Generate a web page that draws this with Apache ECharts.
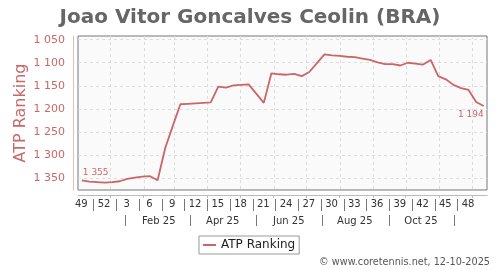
<!DOCTYPE html>
<html><head><meta charset="utf-8">
<script src="https://cdn.jsdelivr.net/npm/echarts@6/dist/echarts.min.js"></script>
<style>html,body{margin:0;padding:0;background:#fff}#c{width:500px;height:270px}</style>
</head><body><div id="c"></div>
<script>
// ---- data ----
const dates = ['2024-12-06','2024-12-13','2024-12-20','2024-12-27','2025-01-03','2025-01-10','2025-01-17','2025-01-24','2025-01-31',
  '2025-02-07','2025-02-14','2025-02-21','2025-02-28','2025-03-07','2025-03-14','2025-03-21','2025-03-28',
  '2025-04-04','2025-04-11','2025-04-18','2025-04-25','2025-05-02','2025-05-09','2025-05-16','2025-05-23','2025-05-30',
  '2025-06-06','2025-06-13','2025-06-20','2025-06-27','2025-07-04','2025-07-11','2025-07-18','2025-07-25',
  '2025-08-01','2025-08-08','2025-08-15','2025-08-22','2025-08-29','2025-09-05','2025-09-12','2025-09-19','2025-09-26',
  '2025-10-03','2025-10-10','2025-10-17','2025-10-24','2025-10-31','2025-11-07','2025-11-14','2025-11-21','2025-11-28',
  '2025-12-05','2025-12-12'];
const ranking = [1355,1358,1359,1360,1359,1357,1352,1349,1347,1346,1355,1285,1237,1190,1189,1188,1187,1186,
  1152,1154,1149,1148,1147,1167,1187,1123,1125,1126,1124,1129,1120,1101,1082,1084,1085,1087,1088,1091,1094,
  1099,1103,1103,1106,1100,1102,1104,1094,1129,1136,1148,1155,1159,1185,1194];
const weekTicks = ['49','52','3','6','9','12','15','18','21','24','27','30','33','36','39','42','45','48'];
const weekTickFirstMonday = '2024-12-02';
const monthTicks = ['Feb 25','Apr 25','Jun 25','Aug 25','Oct 25'];
const monthTickDates = ['2025-02-15','2025-04-15','2025-06-15','2025-08-15','2025-10-15'];
const monthSepDates = ['2025-01-15','2025-03-16','2025-05-16','2025-07-16','2025-09-16','2025-11-15'];
const monthStarts = ['2025-01-01','2025-02-01','2025-03-01','2025-04-01','2025-05-01','2025-06-01','2025-07-01',
  '2025-08-01','2025-09-01','2025-10-01','2025-11-01','2025-12-01'];
const yTicks = [1050,1100,1150,1200,1250,1300,1350];
const titleText = 'Joao Vitor Goncalves Ceolin (BRA)';
const seriesName = 'ATP Ranking';
const footer = '\u00a9 www.coretennis.net, 12-10-2025';

// ---- helpers ----
const DAY = 86400000;
const base = Date.UTC(2025,0,1);
function dayOf(s){ const p = s.split('-').map(Number); return (Date.UTC(p[0],p[1]-1,p[2]) - base)/DAY; }
function fmt(v){ return String(v).replace(/\B(?=(\d{3})+(?!\d))/g,' '); }
const xMin = -29.5, xMax = 348, yMin = 1042, yMax = 1376;
const weekLabelDays = weekTicks.map((t,i)=> dayOf(weekTickFirstMonday) + 21*i + 3.5);
const weekSepDays = weekTicks.slice(1).map((t,i)=> weekLabelDays[i] + 11.5);
const monthLabelDays = monthTickDates.map(dayOf);
const monthSepDays = monthSepDates.map(dayOf);
const monthStartDays = monthStarts.map(dayOf);

const red = '#cc6666';
const lblRed = '#c96868';
const seriesData = dates.map((d,i)=>{
  const it = {value:[dayOf(d), ranking[i]]};
  if (i === 0) it.label = {show:true, position:'top', align:'left', distance:3, offset:[1,0]};
  if (i === dates.length-1) it.label = {show:true, position:'bottom', align:'right', distance:4, offset:[0,0]};
  return it;
});

function blankX(extra){
  return Object.assign({type:'value', gridIndex:0, min:xMin, max:xMax, position:'bottom',
    axisLine:{show:false, onZero:false}, axisTick:{show:false}, splitLine:{show:false}, axisLabel:{show:false}}, extra);
}
function nearest(arr, labels, v){ let b=0,bd=1e9; arr.forEach((d,i)=>{ if(Math.abs(d-v)<bd){bd=Math.abs(d-v);b=i;} }); return labels[b]; }

const chart = echarts.init(document.getElementById('c'), null, {renderer:'canvas'});
chart.setOption({
  animation:false,
  textStyle:{fontFamily:'DejaVu Sans'},
  title:{text:titleText, left:'center', top:3,
    textStyle:{fontFamily:'DejaVu Sans', fontSize:20, fontWeight:'bold', color:'#666'}},
  legend:{data:[seriesName], left:199, top:236, orient:'horizontal', borderColor:'#999', borderWidth:1,
    borderRadius:0, padding:[3,4,3,4], itemWidth:13, itemHeight:2, itemGap:6, icon:'rect',
    textStyle:{fontSize:12, color:'#222', fontFamily:'DejaVu Sans'}},
  graphic:[{type:'text', right:10, bottom:3, style:{text:footer, fontSize:9.7, fill:'#555', fontFamily:'DejaVu Sans'}}],
  grid:{left:78, right:13, top:36, bottom:80, show:true, backgroundColor:'#fafafa', borderColor:'#777', borderWidth:1},
  xAxis:[
    blankX({axisLine:{show:true, onZero:false, lineStyle:{color:'#bbb'}}, offset:5,
      axisTick:{show:true, length:3, customValues:monthStartDays, lineStyle:{color:'#bbb'}}}),
    blankX({offset:5, axisLabel:{show:true, customValues:weekLabelDays, margin:4, fontSize:10, color:'#333',
      formatter:(v)=>nearest(weekLabelDays, weekTicks, v)}}),
    blankX({offset:9, axisTick:{show:true, length:12, customValues:weekSepDays, lineStyle:{color:'#777'}}}),
    blankX({offset:5, axisLabel:{show:true, customValues:monthLabelDays, margin:21, fontSize:10, color:'#333',
      formatter:(v)=>nearest(monthLabelDays, monthTicks, v)}}),
    blankX({offset:25, axisTick:{show:true, length:11, customValues:monthSepDays, lineStyle:{color:'#777'}}})
  ],
  yAxis:{type:'value', inverse:true, min:yMin, max:yMax, offset:5,
    name:seriesName, nameLocation:'middle', nameGap:44, nameMoveOverlap:false,
    nameTextStyle:{fontSize:16, color:lblRed, fontFamily:'DejaVu Sans'},
    axisLine:{show:true, onZero:false, lineStyle:{color:'#e8bcbc'}},
    axisTick:{show:false, customValues:yTicks},
    axisLabel:{customValues:yTicks, formatter:fmt, fontSize:11, color:lblRed, margin:8},
    splitLine:{show:true, lineStyle:{color:'#ddd', type:[3,3]}}},
  series:[
    {type:'custom', xAxisIndex:0, yAxisIndex:0, z:1, silent:true,
      data: monthStartDays.map(d=>[d]),
      encode:{x:0},
      renderItem:(params, api)=>{
        const top = api.coord([api.value(0), yMin]);
        const bot = api.coord([api.value(0), yMax]);
        const x = Math.round(top[0]) + 0.5;
        return {type:'line', silent:true,
          shape:{x1:x, y1:Math.min(top[1],bot[1]), x2:x, y2:Math.max(top[1],bot[1])},
          style:{stroke:'#ddd', lineWidth:1, lineDash:[3,3]}};
      }},
    {name:seriesName, type:'line', xAxisIndex:0, yAxisIndex:0, data:seriesData, z:3,
    showSymbol:true, symbol:'circle', symbolSize:0,
    lineStyle:{color:red, width:1.8}, itemStyle:{color:red},
    label:{show:false, color:lblRed, fontSize:9, formatter:(p)=>fmt(p.value[1])}}]
});
</script></body></html>
